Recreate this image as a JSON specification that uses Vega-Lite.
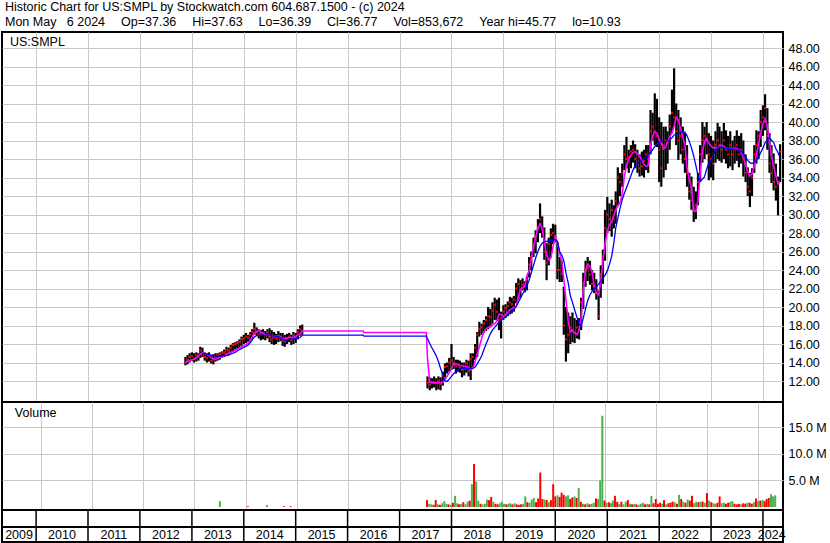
{
"$schema": "https://vega.github.io/schema/vega-lite/v6.json",
"padding": 0,
"background": "white",
"title": {"text": ["Historic Chart for US:SMPL by Stockwatch.com 604.687.1500 - (c) 2024", "Mon May\u00a0\u00a0\u00a06 2024\u00a0\u00a0\u00a0\u00a0\u2006Op=37.36\u00a0\u00a0\u00a0\u00a0\u2006Hi=37.63\u00a0\u00a0\u00a0\u00a0\u2006Lo=36.39\u00a0\u00a0\u00a0\u00a0\u2006Cl=36.77\u00a0\u00a0\u00a0\u00a0\u2006Vol=853,672\u00a0\u00a0\u00a0\u00a0\u2006Year hi=45.77\u00a0\u00a0\u00a0\u00a0\u2006lo=10.93"], "anchor": "start", "frame": "group", "font": "Liberation Sans", "fontSize": 12.5, "fontWeight": "normal", "color": "black", "lineHeight": 15, "offset": 3, "dx": 3},
"datasets": {
"px": [
{"d":"2012-11-16","h":14.6,"l":13.7,"c":14.0,"m":14.0},
{"d":"2012-12-01","h":14.8,"l":13.8,"c":14.3,"m":14.1},
{"d":"2012-12-16","h":15.0,"l":14.0,"c":14.6,"m":14.2},
{"d":"2013-01-01","h":15.1,"l":14.2,"c":14.7,"m":14.3},
{"d":"2013-01-16","h":15.0,"l":14.0,"c":14.4,"m":14.35},
{"d":"2013-02-01","h":15.1,"l":14.1,"c":14.8,"m":14.5},
{"d":"2013-02-16","h":15.0,"l":14.2,"c":14.6,"m":14.7},
{"d":"2013-03-01","h":15.7,"l":14.5,"c":15.3,"m":14.9},
{"d":"2013-03-16","h":15.6,"l":14.6,"c":15.0,"m":15.05,"b":15.0},
{"d":"2013-04-01","h":15.1,"l":14.2,"c":14.6,"m":15.0,"b":14.95},
{"d":"2013-04-16","h":15.0,"l":14.0,"c":14.5,"m":14.9,"b":14.9},
{"d":"2013-05-01","h":15.1,"l":14.1,"c":14.8,"m":14.75,"b":14.85},
{"d":"2013-05-16","h":14.8,"l":13.9,"c":14.2,"m":14.5,"b":14.8},
{"d":"2013-06-01","h":14.9,"l":13.8,"c":14.3,"m":14.4,"b":14.75},
{"d":"2013-06-16","h":15.0,"l":14.1,"c":14.6,"m":14.35,"b":14.7},
{"d":"2013-07-01","h":15.0,"l":14.2,"c":14.8,"m":14.45,"b":14.7,"v":1.1,"u":"u"},
{"d":"2013-07-16","h":15.1,"l":14.3,"c":14.9,"m":14.55,"b":14.7},
{"d":"2013-08-01","h":15.2,"l":14.5,"c":15.0,"m":14.6,"b":14.7},
{"d":"2013-08-16","h":15.4,"l":14.6,"c":15.1,"m":14.75,"b":14.75},
{"d":"2013-09-01","h":15.7,"l":14.7,"c":15.4,"m":14.9,"b":14.75},
{"d":"2013-09-16","h":15.6,"l":14.8,"c":15.3,"m":15.0,"b":14.8},
{"d":"2013-10-01","h":15.9,"l":15.0,"c":15.6,"m":15.1,"b":14.9},
{"d":"2013-10-16","h":16.1,"l":15.2,"c":15.9,"m":15.2,"b":15.0},
{"d":"2013-11-01","h":16.2,"l":15.4,"c":16.0,"m":15.3,"b":15.1},
{"d":"2013-11-16","h":16.3,"l":15.5,"c":16.1,"m":15.45,"b":15.25},
{"d":"2013-12-01","h":16.5,"l":15.6,"c":16.2,"m":15.55,"b":15.4},
{"d":"2013-12-16","h":16.8,"l":15.8,"c":16.5,"m":15.7,"b":15.5},
{"d":"2014-01-01","h":17.0,"l":16.0,"c":16.6,"m":15.85,"b":15.65},
{"d":"2014-01-16","h":17.2,"l":16.1,"c":16.8,"m":15.95,"b":15.75,"v":0.15,"u":"d"},
{"d":"2014-02-01","h":17.0,"l":16.2,"c":16.7,"m":16.1,"b":15.9},
{"d":"2014-02-16","h":17.3,"l":16.4,"c":17.0,"m":16.4,"b":16.15},
{"d":"2014-03-01","h":17.6,"l":16.6,"c":17.3,"m":16.8,"b":16.45},
{"d":"2014-03-16","h":18.3,"l":17.0,"c":17.6,"m":17.15,"b":16.75},
{"d":"2014-04-01","h":17.8,"l":16.9,"c":17.3,"m":17.35,"b":16.9},
{"d":"2014-04-16","h":17.6,"l":16.6,"c":17.0,"m":17.45,"b":16.97},
{"d":"2014-05-01","h":17.5,"l":16.4,"c":17.1,"m":17.3,"b":16.97},
{"d":"2014-05-16","h":17.6,"l":16.5,"c":17.2,"m":17.15,"b":16.97},
{"d":"2014-06-01","h":17.4,"l":16.4,"c":17.0,"m":17.0,"b":16.97,"v":0.35,"u":"u"},
{"d":"2014-06-16","h":17.6,"l":16.6,"c":17.3,"m":16.97,"b":16.97},
{"d":"2014-07-01","h":17.7,"l":16.2,"c":16.8,"m":16.93,"b":16.95},
{"d":"2014-07-16","h":17.5,"l":16.0,"c":16.5,"m":16.9,"b":16.9},
{"d":"2014-08-01","h":17.3,"l":15.9,"c":16.7,"m":16.9,"b":16.87},
{"d":"2014-08-16","h":17.1,"l":16.0,"c":16.6,"m":16.85,"b":16.85},
{"d":"2014-09-01","h":17.4,"l":16.2,"c":16.9,"m":16.8,"b":16.8},
{"d":"2014-09-16","h":17.2,"l":16.3,"c":16.8,"m":16.7,"b":16.65},
{"d":"2014-10-01","h":17.2,"l":15.8,"c":16.4,"m":16.6,"b":16.5,"v":0.15,"u":"d"},
{"d":"2014-10-16","h":17.0,"l":15.7,"c":16.3,"m":16.6,"b":16.4},
{"d":"2014-11-01","h":17.1,"l":16.0,"c":16.6,"m":16.65,"b":16.45},
{"d":"2014-11-16","h":17.2,"l":16.2,"c":16.8,"m":16.7,"b":16.5,"v":0.15,"u":"d"},
{"d":"2014-12-01","h":17.0,"l":15.9,"c":16.4,"m":16.7,"b":16.55},
{"d":"2014-12-16","h":17.3,"l":16.0,"c":16.9,"m":16.7,"b":16.55},
{"d":"2015-01-01","h":17.2,"l":16.1,"c":16.7,"m":16.8,"b":16.6},
{"d":"2015-01-16","h":17.6,"l":16.5,"c":17.3,"m":17.0,"b":16.65},
{"d":"2015-02-01","h":18.0,"l":16.9,"c":17.6,"m":17.1,"b":16.7},
{"d":"2015-02-16","h":18.1,"l":17.0,"c":17.4,"m":17.4,"b":16.95},
{"d":"2015-03-01","m":17.4,"b":16.97},
{"d":"2016-04-20","m":17.4,"b":16.97},
{"d":"2016-04-25","m":17.25,"b":16.86},
{"d":"2017-07-08","m":17.25,"b":16.86},
{"d":"2017-07-16","h":12.5,"l":11.2,"c":11.8,"m":14.5,"b":16.6,"v":1.3,"u":"d"},
{"d":"2017-08-01","h":12.4,"l":11.0,"c":11.6,"m":11.85,"b":16.05,"v":0.6,"u":"u"},
{"d":"2017-08-16","h":12.3,"l":11.2,"c":11.9,"m":11.8,"b":15.6,"v":0.5,"u":"u"},
{"d":"2017-09-01","h":12.5,"l":11.3,"c":11.9,"m":11.8,"b":15.15,"v":0.4,"u":"d"},
{"d":"2017-09-16","h":12.3,"l":11.0,"c":11.8,"m":11.8,"b":14.7,"v":1.3,"u":"d"},
{"d":"2017-10-01","h":12.5,"l":11.1,"c":12.0,"m":11.8,"b":14.1,"v":0.5,"u":"u"},
{"d":"2017-10-16","h":12.4,"l":11.0,"c":11.7,"m":11.82,"b":13.35,"v":0.4,"u":"d"},
{"d":"2017-11-01","h":13.0,"l":11.5,"c":12.6,"m":11.85,"b":12.7,"v":0.7,"u":"u"},
{"d":"2017-11-16","h":13.9,"l":12.4,"c":13.5,"m":12.2,"b":12.0,"v":1.1,"u":"u"},
{"d":"2017-12-01","h":14.0,"l":12.8,"c":13.6,"m":12.5,"b":11.95,"v":0.6,"u":"u"},
{"d":"2017-12-16","h":14.5,"l":13.0,"c":14.0,"m":12.9,"b":12.2,"v":0.5,"u":"d"},
{"d":"2018-01-01","h":16.0,"l":13.2,"c":14.2,"m":13.35,"b":12.5,"v":0.4,"u":"u"},
{"d":"2018-01-16","h":14.6,"l":13.3,"c":14.0,"m":13.85,"b":12.8,"v":0.8,"u":"d"},
{"d":"2018-02-01","h":14.3,"l":12.8,"c":13.6,"m":13.85,"b":13.0,"v":2.1,"u":"u"},
{"d":"2018-02-16","h":14.3,"l":13.0,"c":13.8,"m":13.75,"b":13.2,"v":0.7,"u":"u"},
{"d":"2018-03-01","h":14.2,"l":12.9,"c":13.5,"m":13.7,"b":13.3,"v":0.5,"u":"d"},
{"d":"2018-03-16","h":14.0,"l":12.4,"c":13.2,"m":13.65,"b":13.37,"v":0.6,"u":"u"},
{"d":"2018-04-01","h":14.0,"l":12.6,"c":13.3,"m":13.6,"b":13.37,"v":0.9,"u":"d"},
{"d":"2018-04-16","h":14.3,"l":12.9,"c":13.9,"m":13.55,"b":13.37,"v":0.5,"u":"u"},
{"d":"2018-05-01","h":14.2,"l":12.5,"c":13.1,"m":13.5,"b":13.37,"v":1.0,"u":"u"},
{"d":"2018-05-16","h":15.0,"l":12.1,"c":14.4,"m":13.2,"b":13.37,"v":1.2,"u":"d"},
{"d":"2018-06-01","h":15.0,"l":13.5,"c":14.6,"m":13.4,"b":13.37,"v":4.3,"u":"u"},
{"d":"2018-06-16","h":16.0,"l":14.3,"c":15.6,"m":14.1,"b":13.5,"v":8.1,"u":"d"},
{"d":"2018-07-01","h":17.3,"l":14.6,"c":17.0,"m":14.9,"b":13.85,"v":4.8,"u":"u"},
{"d":"2018-07-16","h":18.4,"l":16.8,"c":17.6,"m":15.7,"b":14.25,"v":1.2,"u":"u"},
{"d":"2018-08-01","h":18.2,"l":17.0,"c":17.8,"m":16.6,"b":14.7,"v":0.6,"u":"d"},
{"d":"2018-08-16","h":18.6,"l":17.2,"c":18.2,"m":17.3,"b":15.35,"v":0.5,"u":"u"},
{"d":"2018-09-01","h":19.0,"l":17.4,"c":18.6,"m":17.65,"b":16.0,"v":0.6,"u":"u"},
{"d":"2018-09-16","h":20.0,"l":17.6,"c":19.0,"m":17.8,"b":16.55,"v":1.4,"u":"u"},
{"d":"2018-10-01","h":19.8,"l":17.8,"c":18.9,"m":17.9,"b":17.1,"v":1.3,"u":"d"},
{"d":"2018-10-16","h":20.5,"l":18.2,"c":19.6,"m":18.05,"b":17.5,"v":1.9,"u":"d"},
{"d":"2018-11-01","h":21.0,"l":18.6,"c":20.2,"m":18.2,"b":17.8,"v":1.0,"u":"u"},
{"d":"2018-11-16","h":20.8,"l":18.5,"c":19.5,"m":18.5,"b":18.1,"v":0.6,"u":"d"},
{"d":"2018-12-01","h":21.0,"l":17.5,"c":18.6,"m":19.2,"b":18.4,"v":0.5,"u":"d"},
{"d":"2018-12-16","h":19.5,"l":16.6,"c":18.8,"m":19.2,"b":18.6,"v":0.7,"u":"u"},
{"d":"2019-01-01","h":20.2,"l":18.6,"c":19.5,"m":18.95,"b":18.8,"v":1.0,"u":"u"},
{"d":"2019-01-16","h":20.3,"l":18.8,"c":19.9,"m":19.15,"b":18.95,"v":0.6,"u":"u"},
{"d":"2019-02-01","h":20.6,"l":19.0,"c":20.1,"m":19.4,"b":19.15,"v":0.5,"u":"d"},
{"d":"2019-02-16","h":21.1,"l":19.2,"c":20.5,"m":19.7,"b":19.35,"v":0.6,"u":"u"},
{"d":"2019-03-01","h":21.0,"l":19.3,"c":20.3,"m":19.8,"b":19.5,"v":0.7,"u":"u"},
{"d":"2019-03-16","h":21.2,"l":19.5,"c":20.8,"m":19.95,"b":19.75,"v":0.5,"u":"d"},
{"d":"2019-04-01","h":22.6,"l":20.4,"c":22.0,"m":20.05,"b":20.05,"v":0.7,"u":"u"},
{"d":"2019-04-16","h":23.1,"l":20.8,"c":22.5,"m":21.1,"b":20.5,"v":0.5,"u":"d"},
{"d":"2019-05-01","h":22.9,"l":21.0,"c":21.9,"m":21.9,"b":20.95,"v":0.4,"u":"d"},
{"d":"2019-05-16","h":23.1,"l":21.8,"c":22.4,"m":22.1,"b":21.4,"v":0.5,"u":"d"},
{"d":"2019-06-01","h":22.8,"l":21.6,"c":22.2,"m":22.3,"b":21.8,"v":0.6,"u":"u"},
{"d":"2019-06-16","h":23.3,"l":21.8,"c":23.0,"m":23.4,"b":22.35,"v":2.0,"u":"u"},
{"d":"2019-07-01","h":25.4,"l":23.2,"c":24.6,"m":23.9,"b":22.9,"v":0.9,"u":"d"},
{"d":"2019-07-16","h":26.0,"l":24.0,"c":25.4,"m":25.2,"b":23.7,"v":0.8,"u":"u"},
{"d":"2019-08-01","h":27.5,"l":25.4,"c":26.8,"m":26.5,"b":24.5,"v":1.4,"u":"u"},
{"d":"2019-08-16","h":28.3,"l":25.8,"c":27.6,"m":27.5,"b":25.3,"v":1.7,"u":"u"},
{"d":"2019-09-01","h":29.5,"l":27.0,"c":28.6,"m":28.5,"b":26.0,"v":0.9,"u":"d"},
{"d":"2019-09-16","h":31.2,"l":28.0,"c":29.5,"m":29.0,"b":26.55,"v":1.6,"u":"d"},
{"d":"2019-10-01","h":29.8,"l":27.5,"c":28.4,"m":28.5,"b":26.9,"v":6.5,"u":"d"},
{"d":"2019-10-16","h":28.6,"l":25.1,"c":26.0,"m":27.0,"b":27.05,"v":1.5,"u":"d"},
{"d":"2019-11-01","h":26.9,"l":22.9,"c":24.8,"m":25.6,"b":27.1,"v":1.4,"u":"u"},
{"d":"2019-11-16","h":27.5,"l":24.5,"c":26.8,"m":25.1,"b":27.15,"v":1.3,"u":"d"},
{"d":"2019-12-01","h":28.5,"l":25.4,"c":27.8,"m":25.3,"b":27.2,"v":0.9,"u":"u"},
{"d":"2019-12-16","h":29.0,"l":26.8,"c":28.0,"m":26.5,"b":27.24,"v":1.3,"u":"d"},
{"d":"2020-01-01","h":28.9,"l":27.0,"c":27.6,"m":27.6,"b":27.3,"v":4.3,"u":"d"},
{"d":"2020-01-16","h":27.0,"l":23.0,"c":24.0,"m":27.0,"b":27.1,"v":2.0,"u":"d"},
{"d":"2020-02-01","h":25.4,"l":22.7,"c":24.0,"m":25.8,"b":26.0,"v":2.2,"u":"u"},
{"d":"2020-02-16","h":25.0,"l":22.7,"c":23.6,"m":24.9,"b":25.6,"v":1.9,"u":"d"},
{"d":"2020-03-01","h":22.2,"l":17.0,"c":18.0,"m":23.0,"b":25.0,"v":2.7,"u":"d"},
{"d":"2020-03-16","h":20.0,"l":14.1,"c":16.5,"m":20.8,"b":23.7,"v":2.3,"u":"d"},
{"d":"2020-04-01","h":19.4,"l":15.0,"c":17.0,"m":18.5,"b":22.6,"v":2.0,"u":"u"},
{"d":"2020-04-16","h":19.0,"l":16.0,"c":17.8,"m":17.3,"b":21.2,"v":2.2,"u":"u"},
{"d":"2020-05-01","h":19.4,"l":16.2,"c":17.5,"m":17.5,"b":20.5,"v":1.5,"u":"d"},
{"d":"2020-05-16","h":18.8,"l":16.1,"c":17.2,"m":17.2,"b":19.7,"v":1.8,"u":"d"},
{"d":"2020-06-01","h":18.6,"l":16.6,"c":17.8,"m":17.0,"b":18.9,"v":2.0,"u":"u"},
{"d":"2020-06-16","h":18.8,"l":16.5,"c":17.5,"m":17.5,"b":18.2,"v":1.7,"u":"d"},
{"d":"2020-07-01","h":21.0,"l":17.5,"c":20.5,"m":19.0,"b":17.9,"v":3.6,"u":"u"},
{"d":"2020-07-16","h":23.7,"l":19.8,"c":22.6,"m":21.8,"b":18.8,"v":1.0,"u":"d"},
{"d":"2020-08-01","h":25.0,"l":22.2,"c":24.0,"m":23.9,"b":19.8,"v":0.6,"u":"u"},
{"d":"2020-08-16","h":25.4,"l":22.8,"c":24.2,"m":24.6,"b":20.7,"v":0.5,"u":"d"},
{"d":"2020-09-01","h":25.0,"l":22.4,"c":23.5,"m":24.4,"b":21.3,"v":0.7,"u":"u"},
{"d":"2020-09-16","h":24.0,"l":21.8,"c":22.5,"m":23.8,"b":21.7,"v":0.5,"u":"d"},
{"d":"2020-10-01","h":23.7,"l":21.5,"c":22.2,"m":22.2,"b":21.95,"v":0.6,"u":"u"},
{"d":"2020-10-16","h":23.0,"l":20.8,"c":21.5,"m":21.5,"b":22.2,"v":0.8,"u":"u"},
{"d":"2020-11-01","h":21.8,"l":18.6,"c":19.0,"m":21.3,"b":22.45,"v":1.6,"u":"d"},
{"d":"2020-11-16","h":24.5,"l":21.0,"c":23.5,"m":22.8,"b":22.8,"v":1.5,"u":"u"},
{"d":"2020-12-01","h":26.2,"l":22.5,"c":25.5,"m":25.0,"b":23.1,"v":5.0,"u":"u"},
{"d":"2020-12-16","h":30.5,"l":25.0,"c":28.5,"m":26.8,"b":23.45,"v":17.2,"u":"u"},
{"d":"2021-01-01","h":31.9,"l":28.0,"c":30.0,"m":28.2,"b":23.9,"v":1.2,"u":"d"},
{"d":"2021-01-16","h":31.2,"l":28.2,"c":29.5,"m":28.9,"b":24.6,"v":0.8,"u":"u"},
{"d":"2021-02-01","h":31.6,"l":27.6,"c":30.5,"m":29.2,"b":25.5,"v":0.9,"u":"d"},
{"d":"2021-02-16","h":31.0,"l":28.5,"c":29.5,"m":29.9,"b":26.9,"v":0.7,"u":"u"},
{"d":"2021-03-01","h":32.5,"l":29.0,"c":31.5,"m":30.5,"b":28.5,"v":1.2,"u":"u"},
{"d":"2021-03-16","h":35.1,"l":31.0,"c":34.0,"m":30.9,"b":29.6,"v":2.1,"u":"d"},
{"d":"2021-04-01","h":34.5,"l":32.0,"c":33.5,"m":31.3,"b":30.7,"v":1.0,"u":"d"},
{"d":"2021-04-16","h":35.5,"l":33.0,"c":34.5,"m":32.2,"b":31.6,"v":0.6,"u":"u"},
{"d":"2021-05-01","h":37.5,"l":34.8,"c":36.5,"m":34.1,"b":32.3,"v":1.0,"u":"d"},
{"d":"2021-05-16","h":38.4,"l":35.0,"c":36.0,"m":35.3,"b":32.9,"v":0.5,"u":"u"},
{"d":"2021-06-01","h":37.0,"l":34.5,"c":36.2,"m":36.0,"b":33.55,"v":1.0,"u":"u"},
{"d":"2021-06-16","h":37.5,"l":35.0,"c":36.8,"m":36.4,"b":34.2,"v":1.3,"u":"d"},
{"d":"2021-07-01","h":38.0,"l":35.6,"c":37.0,"m":36.7,"b":34.8,"v":0.6,"u":"u"},
{"d":"2021-07-16","h":37.6,"l":35.0,"c":36.0,"m":36.8,"b":35.3,"v":0.5,"u":"d"},
{"d":"2021-08-01","h":37.0,"l":34.5,"c":35.5,"m":36.6,"b":35.5,"v":0.6,"u":"u"},
{"d":"2021-08-16","h":36.5,"l":34.1,"c":35.0,"m":36.3,"b":35.7,"v":0.5,"u":"d"},
{"d":"2021-09-01","h":36.8,"l":34.2,"c":35.2,"m":35.9,"b":35.9,"v":0.4,"u":"u"},
{"d":"2021-09-16","h":37.0,"l":34.0,"c":35.8,"m":35.4,"b":36.05,"v":0.6,"u":"u"},
{"d":"2021-10-01","h":37.5,"l":34.8,"c":36.5,"m":35.2,"b":36.25,"v":0.8,"u":"u"},
{"d":"2021-10-16","h":37.5,"l":34.5,"c":36.0,"m":35.3,"b":36.5,"v":0.5,"u":"d"},
{"d":"2021-11-01","h":41.3,"l":36.5,"c":39.0,"m":37.5,"b":36.7,"v":0.6,"u":"u"},
{"d":"2021-11-16","h":41.0,"l":38.0,"c":39.5,"m":38.5,"b":37.0,"v":0.5,"u":"d"},
{"d":"2021-12-01","h":43.1,"l":37.5,"c":39.0,"m":38.9,"b":37.35,"v":2.1,"u":"u"},
{"d":"2021-12-16","h":42.5,"l":37.3,"c":38.5,"m":38.8,"b":37.6,"v":0.7,"u":"d"},
{"d":"2022-01-01","h":40.5,"l":33.5,"c":37.0,"m":38.1,"b":37.85,"v":1.5,"u":"d"},
{"d":"2022-01-16","h":40.0,"l":33.0,"c":35.0,"m":37.7,"b":37.87,"v":0.6,"u":"d"},
{"d":"2022-02-01","h":39.5,"l":34.0,"c":37.5,"m":37.1,"b":37.87,"v":0.8,"u":"d"},
{"d":"2022-02-16","h":39.5,"l":34.8,"c":38.0,"m":37.3,"b":37.9,"v":0.6,"u":"u"},
{"d":"2022-03-01","h":39.0,"l":35.5,"c":37.8,"m":37.9,"b":37.95,"v":1.3,"u":"d"},
{"d":"2022-03-16","h":40.8,"l":37.0,"c":39.5,"m":38.4,"b":38.05,"v":0.5,"u":"u"},
{"d":"2022-04-01","h":43.5,"l":38.8,"c":41.0,"m":38.8,"b":38.3,"v":0.7,"u":"d"},
{"d":"2022-04-16","h":45.8,"l":39.5,"c":40.5,"m":39.6,"b":38.6,"v":0.8,"u":"d"},
{"d":"2022-05-01","h":42.0,"l":37.5,"c":39.0,"m":40.5,"b":38.7,"v":1.0,"u":"d"},
{"d":"2022-05-16","h":41.3,"l":35.9,"c":38.0,"m":40.2,"b":38.75,"v":0.9,"u":"u"},
{"d":"2022-06-01","h":40.5,"l":36.5,"c":38.5,"m":39.2,"b":38.85,"v":0.6,"u":"d"},
{"d":"2022-06-16","h":39.5,"l":35.5,"c":37.0,"m":38.4,"b":38.95,"v":2.3,"u":"u"},
{"d":"2022-07-01","h":38.8,"l":34.5,"c":36.0,"m":37.5,"b":38.9,"v":1.5,"u":"d"},
{"d":"2022-07-16","h":37.5,"l":33.0,"c":34.5,"m":35.0,"b":38.5,"v":1.0,"u":"u"},
{"d":"2022-08-01","h":34.5,"l":31.6,"c":32.5,"m":33.8,"b":37.9,"v":0.8,"u":"d"},
{"d":"2022-08-16","h":34.1,"l":30.5,"c":31.5,"m":32.8,"b":37.2,"v":1.4,"u":"u"},
{"d":"2022-09-01","h":33.0,"l":29.2,"c":30.5,"m":30.4,"b":36.3,"v":1.2,"u":"d"},
{"d":"2022-09-16","h":32.5,"l":29.5,"c":31.0,"m":30.3,"b":35.3,"v":2.1,"u":"d"},
{"d":"2022-10-01","h":34.5,"l":31.0,"c":33.5,"m":31.5,"b":34.2,"v":0.7,"u":"u"},
{"d":"2022-10-16","h":37.5,"l":33.5,"c":36.5,"m":34.5,"b":33.6,"v":1.0,"u":"u"},
{"d":"2022-11-01","h":40.0,"l":35.6,"c":38.0,"m":36.8,"b":33.8,"v":0.9,"u":"d"},
{"d":"2022-11-16","h":39.5,"l":36.0,"c":38.5,"m":37.9,"b":34.1,"v":1.0,"u":"u"},
{"d":"2022-12-01","h":40.0,"l":36.5,"c":38.0,"m":38.2,"b":34.9,"v":1.0,"u":"d"},
{"d":"2022-12-16","h":38.8,"l":33.7,"c":36.5,"m":37.7,"b":35.6,"v":0.8,"u":"u"},
{"d":"2023-01-01","h":38.5,"l":34.0,"c":36.0,"m":37.4,"b":35.9,"v":2.6,"u":"d"},
{"d":"2023-01-16","h":38.0,"l":33.7,"c":35.5,"m":37.2,"b":36.4,"v":1.2,"u":"u"},
{"d":"2023-02-01","h":39.0,"l":35.6,"c":37.5,"m":37.2,"b":36.95,"v":0.9,"u":"d"},
{"d":"2023-02-16","h":39.9,"l":36.0,"c":38.0,"m":37.2,"b":37.15,"v":0.7,"u":"u"},
{"d":"2023-03-01","h":39.5,"l":35.8,"c":37.5,"m":37.4,"b":37.3,"v":0.6,"u":"u"},
{"d":"2023-03-16","h":39.0,"l":35.6,"c":37.0,"m":37.5,"b":37.3,"v":0.8,"u":"d"},
{"d":"2023-04-01","h":39.9,"l":36.0,"c":38.0,"m":37.35,"b":37.2,"v":2.0,"u":"d"},
{"d":"2023-04-16","h":39.1,"l":35.5,"c":37.0,"m":37.15,"b":37.15,"v":0.7,"u":"u"},
{"d":"2023-05-01","h":38.5,"l":35.0,"c":36.5,"m":37.15,"b":37.15,"v":0.8,"u":"u"},
{"d":"2023-05-16","h":39.0,"l":35.2,"c":37.5,"m":37.15,"b":37.1,"v":0.6,"u":"d"},
{"d":"2023-06-01","h":38.0,"l":34.8,"c":36.5,"m":37.15,"b":37.1,"v":0.8,"u":"d"},
{"d":"2023-06-16","h":38.5,"l":35.5,"c":37.0,"m":37.15,"b":37.05,"v":1.0,"u":"u"},
{"d":"2023-07-01","h":39.1,"l":35.8,"c":37.5,"m":37.1,"b":37.0,"v":1.1,"u":"u"},
{"d":"2023-07-16","h":38.5,"l":35.1,"c":36.5,"m":37.0,"b":36.97,"v":0.6,"u":"d"},
{"d":"2023-08-01","h":38.8,"l":35.5,"c":37.0,"m":36.75,"b":36.8,"v":0.5,"u":"d"},
{"d":"2023-08-16","h":38.0,"l":34.1,"c":36.5,"m":36.1,"b":36.55,"v":0.6,"u":"d"},
{"d":"2023-09-01","h":36.5,"l":33.5,"c":34.5,"m":35.4,"b":36.2,"v":0.5,"u":"u"},
{"d":"2023-09-16","h":35.1,"l":32.0,"c":33.0,"m":34.6,"b":35.85,"v":0.7,"u":"d"},
{"d":"2023-10-01","h":34.5,"l":30.8,"c":32.5,"m":34.15,"b":35.6,"v":0.6,"u":"d"},
{"d":"2023-10-16","h":35.0,"l":32.0,"c":34.0,"m":34.4,"b":35.5,"v":0.8,"u":"u"},
{"d":"2023-11-01","h":37.5,"l":34.5,"c":36.5,"m":35.2,"b":35.65,"v":0.8,"u":"d"},
{"d":"2023-11-16","h":39.1,"l":35.5,"c":37.5,"m":36.5,"b":35.9,"v":0.6,"u":"d"},
{"d":"2023-12-01","h":39.0,"l":36.0,"c":38.5,"m":37.6,"b":36.2,"v":0.9,"u":"u"},
{"d":"2023-12-16","h":41.3,"l":37.3,"c":40.0,"m":38.8,"b":36.7,"v":1.6,"u":"d"},
{"d":"2024-01-01","h":41.8,"l":38.5,"c":40.5,"m":39.8,"b":37.2,"v":1.1,"u":"u"},
{"d":"2024-01-16","h":43.0,"l":39.1,"c":41.5,"m":40.35,"b":37.75,"v":1.2,"u":"d"},
{"d":"2024-02-01","h":41.5,"l":37.0,"c":38.5,"m":39.5,"b":38.1,"v":1.3,"u":"u"},
{"d":"2024-02-16","h":38.8,"l":34.5,"c":35.5,"m":37.8,"b":38.3,"v":1.1,"u":"d"},
{"d":"2024-03-01","h":37.5,"l":33.4,"c":34.5,"m":36.3,"b":38.0,"v":1.5,"u":"d"},
{"d":"2024-03-16","h":36.6,"l":32.6,"c":33.5,"m":35.2,"b":37.8,"v":1.7,"u":"d"},
{"d":"2024-04-01","h":35.5,"l":31.5,"c":33.0,"m":34.2,"b":37.1,"v":2.4,"u":"u"},
{"d":"2024-04-16","h":34.1,"l":29.9,"c":33.5,"m":33.3,"b":36.7,"v":2.0,"u":"u"},
{"d":"2024-05-01","h":37.6,"l":33.5,"c":36.8,"m":33.6,"b":36.1,"v":2.2,"u":"u"}
],
"yrs": [
{"y":"2009","c":"2009-09-03"},
{"y":"2010","s":"2010-01-01","c":"2010-07-02"},
{"y":"2011","s":"2011-01-01","c":"2011-07-02"},
{"y":"2012","s":"2012-01-01","c":"2012-07-02"},
{"y":"2013","s":"2013-01-01","c":"2013-07-02"},
{"y":"2014","s":"2014-01-01","c":"2014-07-02"},
{"y":"2015","s":"2015-01-01","c":"2015-07-02"},
{"y":"2016","s":"2016-01-01","c":"2016-07-02"},
{"y":"2017","s":"2017-01-01","c":"2017-07-02"},
{"y":"2018","s":"2018-01-01","c":"2018-07-02"},
{"y":"2019","s":"2019-01-01","c":"2019-07-02"},
{"y":"2020","s":"2020-01-01","c":"2020-07-02"},
{"y":"2021","s":"2021-01-01","c":"2021-07-02"},
{"y":"2022","s":"2022-01-01","c":"2022-07-02"},
{"y":"2023","s":"2023-01-01","c":"2023-07-02"},
{"y":"2024","s":"2024-01-01","c":"2024-03-03"}
],
"lbl": [{"t": "US:SMPL", "d": "2009-07-01"}],
"vlbl": [{"t": "Volume", "d": "2009-07-01"}]
},
"hconcat": [
{
"vconcat": [
{
"width": 781, "height": 370,
"data": {"name": "px"},
"encoding": {"x": {"field": "d", "type": "temporal", "title": null, "scale": {"domain": [{"year": 2009, "month": 5, "date": 6}, {"year": 2024, "month": 5, "date": 21}]}, "axis": {"labels": false, "ticks": false, "domain": false, "grid": true, "tickCount": {"interval": "year", "step": 1}}}},
"layer": [
{"mark": {"type": "rule", "color": "black", "strokeWidth": 2.2}, "encoding": {"y": {"field": "l", "type": "quantitative", "title": null, "scale": {"domain": [9.73, 49.73], "nice": false, "zero": false}, "axis": {"orient": "right", "values": [12,14,16,18,20,22,24,26,28,30,32,34,36,38,40,42,44,46,48], "format": ".2f", "grid": true, "domain": false, "ticks": false, "labelPadding": 5, "labelOverlap": false}}, "y2": {"field": "h"}}},
{"mark": {"type": "square", "color": "#ff0000", "size": 4, "opacity": 1}, "encoding": {"y": {"field": "c", "type": "quantitative", "title": null, "axis": {"orient": "right", "values": [12,14,16,18,20,22,24,26,28,30,32,34,36,38,40,42,44,46,48], "format": ".2f", "grid": true, "domain": false, "ticks": false, "labelPadding": 5, "labelOverlap": false}}}},
{"mark": {"type": "line", "color": "#ff00ff", "strokeWidth": 1.6}, "encoding": {"y": {"field": "m", "type": "quantitative", "title": null, "axis": {"orient": "right", "values": [12,14,16,18,20,22,24,26,28,30,32,34,36,38,40,42,44,46,48], "format": ".2f", "grid": true, "domain": false, "ticks": false, "labelPadding": 5, "labelOverlap": false}}}},
{"mark": {"type": "line", "color": "#0000ff", "strokeWidth": 1.3}, "encoding": {"y": {"field": "b", "type": "quantitative", "title": null, "axis": {"orient": "right", "values": [12,14,16,18,20,22,24,26,28,30,32,34,36,38,40,42,44,46,48], "format": ".2f", "grid": true, "domain": false, "ticks": false, "labelPadding": 5, "labelOverlap": false}}}},
{"data": {"name": "lbl"}, "mark": {"type": "text", "align": "left", "baseline": "middle", "fontSize": 12.5, "color": "black", "font": "Liberation Sans"}, "encoding": {"y": {"datum": 48.65, "type": "quantitative", "axis": {"orient": "right", "values": [12,14,16,18,20,22,24,26,28,30,32,34,36,38,40,42,44,46,48], "format": ".2f", "grid": true, "domain": false, "ticks": false, "labelPadding": 5, "labelOverlap": false}}, "text": {"field": "t"}}}
]
},
{
"width": 781, "height": 108,
"data": {"name": "px"},
"encoding": {"x": {"field": "d", "type": "temporal", "title": null, "scale": {"domain": [{"year": 2009, "month": 5, "date": 6}, {"year": 2024, "month": 5, "date": 21}]}, "axis": {"labels": false, "ticks": false, "domain": false, "grid": true, "tickCount": {"interval": "year", "step": 1}}}},
"layer": [
{"mark": {"type": "bar", "size": 2}, "encoding": {"y": {"field": "v", "type": "quantitative", "title": null, "scale": {"domain": [-0.57, 19.8], "nice": false, "zero": false}, "axis": {"orient": "right", "values": [5, 10, 15], "labelExpr": "format(datum.value, '.1f') + ' M'", "grid": true, "domain": false, "ticks": false, "labelPadding": 5, "labelOverlap": false}}, "color": {"field": "u", "type": "nominal", "scale": {"domain": ["u", "d"], "range": ["#4cb04c", "#ff0000"]}, "legend": null}}},
{"data": {"name": "vlbl"}, "mark": {"type": "text", "align": "left", "baseline": "middle", "fontSize": 12.5, "color": "black", "font": "Liberation Sans"}, "encoding": {"y": {"datum": 17.7, "type": "quantitative", "axis": {"orient": "right", "values": [5, 10, 15], "labelExpr": "format(datum.value, '.1f') + ' M'", "grid": true, "domain": false, "ticks": false, "labelPadding": 5, "labelOverlap": false}}, "text": {"field": "t"}}}
]
},
{
"width": 781, "height": 32,
"data": {"name": "yrs"},
"layer": [
{"mark": {"type": "rule", "color": "black", "strokeWidth": 1.5}, "encoding": {"x": {"field": "s", "type": "temporal", "title": null, "scale": {"domain": [{"year": 2009, "month": 5, "date": 6}, {"year": 2024, "month": 5, "date": 21}]}, "axis": null}}},
{"data": {"values": [{"t": ""}]}, "mark": {"type": "rule", "color": "black", "strokeWidth": 2}, "encoding": {"y": {"datum": 15, "type": "quantitative", "scale": {"domain": [0, 32], "nice": false, "zero": false}, "axis": null}}},
{"mark": {"type": "text", "align": "center", "baseline": "middle", "fontSize": 12.5, "color": "black", "font": "Liberation Sans"}, "encoding": {"x": {"field": "c", "type": "temporal"}, "y": {"datum": 7, "type": "quantitative"}, "text": {"field": "y"}}}
]
}
],
"spacing": 0,
"bounds": "flush"
},
{
"vconcat": [
{"width": 47, "height": 370, "data": {"values": [{"t": ""}]}, "mark": {"type": "text"}, "encoding": {"text": {"field": "t"}}},
{"width": 47, "height": 140, "data": {"values": [{"t": ""}]}, "mark": {"type": "text"}, "encoding": {"text": {"field": "t"}}}
],
"spacing": 0,
"bounds": "flush"
}
],
"spacing": 0,
"bounds": "flush",
"config": {
"view": {"stroke": "black", "strokeWidth": 2},
"font": "Liberation Sans",
"axis": {"gridColor": "#c8c8c8", "gridWidth": 1, "gridOpacity": 1, "labelFont": "Liberation Sans", "labelFontSize": 12.5, "labelColor": "black"}
}
}
